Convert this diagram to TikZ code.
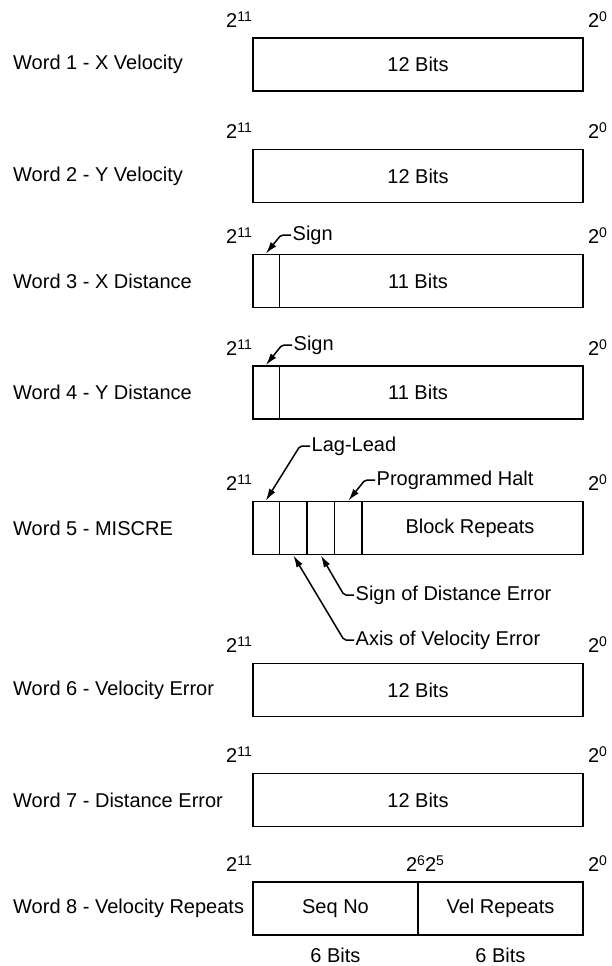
\documentclass[tikz,border=0pt]{standalone}
\usepackage{fontspec}
\setmainfont{Liberation Sans}
\usetikzlibrary{arrows.meta, positioning, calc}
\newcommand{\wfont}{\fontsize{20}{23}\selectfont}
\newcommand{\pwr}[1]{2\raisebox{6pt}{\fontsize{14}{15}\selectfont #1}}
\tikzset{
  word/.style={draw, line width=1.8pt, minimum width=330pt, minimum height=53pt, inner sep=0pt, font=\wfont},
  wlab/.style={anchor=west, inner sep=0pt, font=\wfont},
  txt/.style={inner sep=0pt, font=\wfont},
  pw/.style={inner sep=0pt, font=\fontsize{20}{22}\selectfont},
  div/.style={line width=1.6pt},
  call/.style={line width=1.5pt, rounded corners=2pt, -{Latex[length=12pt, width=7pt]}},
  clab/.style={anchor=west, inner sep=1.5pt, font=\wfont}
}
\newcommand{\bitends}[1]{
  \node[pw, anchor=base east] (h#1) at ([yshift=10pt]w#1.north west) {\pwr{11}};
  \node[pw, anchor=base west] (z#1) at ([shift={(4pt,10pt)}]w#1.north east) {\pwr{0}};
}
\begin{document}
\begin{tikzpicture}[x=1pt, y=-1pt]
  \useasboundingbox (0,0) rectangle (612,966);
  \node[word] (w1) at (418,64.5) {12 Bits};
  \node[word] (w2) at (418,176) {12 Bits};
  \node[word] (w3) at (418,281) {11 Bits};
  \node[word] (w4) at (418,392.5) {11 Bits};
  \node[word] (w5) at (418,528) {};
  \node[word] (w6) at (418,690) {12 Bits};
  \node[word] (w7) at (418,800) {12 Bits};
  \node[word] (w8) at (418,908.5) {};
  \node[wlab] (l1) at (13,64.5) {Word 1 - X Velocity};
  \node[wlab] (l2) at (13,176) {Word 2 - Y Velocity};
  \node[wlab] (l3) at (13,281) {Word 3 - X Distance};
  \node[wlab] (l4) at (13,392.5) {Word 4 - Y Distance};
  \node[wlab] (l5) at (13,528) {Word 5 - MISCRE};
  \node[wlab] (l6) at (13,690) {Word 6 - Velocity Error};
  \node[wlab] (l7) at (13,800) {Word 7 - Distance Error};
  \node[wlab] (l8) at (13,908.5) {Word 8 - Velocity Repeats};
  \bitends{1} \bitends{2} \bitends{3} \bitends{4}
  \bitends{5} \bitends{6} \bitends{7} \bitends{8}
  \node[pw, anchor=base] (m8) at ([shift={(7pt,10pt)}]w8.north) {\pwr{6}\pwr{5}};

  \draw[div] ($(w3.north west)+(27.5,0)$) -- ($(w3.south west)+(27.5,0)$);
  \draw[div] ($(w4.north west)+(27.5,0)$) -- ($(w4.south west)+(27.5,0)$);
  \draw[div] ($(w5.north west)+(27.5,0)$) -- ($(w5.south west)+(27.5,0)$);
  \draw[div] ($(w5.north west)+(55,0)$) -- ($(w5.south west)+(55,0)$);
  \draw[div] ($(w5.north west)+(82.5,0)$) -- ($(w5.south west)+(82.5,0)$);
  \draw[div] ($(w5.north west)+(110,0)$) -- ($(w5.south west)+(110,0)$);
  \draw[div] (w8.north) -- (w8.south);

  \node[txt] (blk) at (470,528) {Block Repeats};
  \node[txt] (seq) at (335.5,908.5) {Seq No};
  \node[txt] (vrep) at (500.5,908.5) {Vel Repeats};
  \node[txt] (b6l) at (335.5,955) {6 Bits};
  \node[txt] (b6r) at (500.5,955) {6 Bits};

  \coordinate (s3) at ($(w3.north west)+(13.75,0)$);
  \coordinate (s4) at ($(w4.north west)+(13.75,0)$);
  \coordinate (lag) at ($(w5.north west)+(13.75,0)$);
  \coordinate (halt) at ($(w5.north west)+(96.25,0)$);
  \coordinate (axis) at ($(w5.south west)+(41.25,0)$);
  \coordinate (dsign) at ($(w5.south west)+(68.75,0)$);

  \node[clab] (sg3) at (291,235) {Sign};
  \node[clab] (sg4) at (292,345) {Sign};
  \node[clab] (ll) at (310,446) {Lag-Lead};
  \node[clab] (ph) at (375,480) {Programmed Halt};
  \node[clab] (sde) at (354,595) {Sign of Distance Error};
  \node[clab] (ave) at (354,640) {Axis of Velocity Error};
  \draw[call] (sg3.west) -- ++(-10,0) -- (s3);
  \draw[call] (sg4.west) -- ++(-10,0) -- (s4);
  \draw[call] (ll.west) -- ++(-10,0) -- (lag);
  \draw[call] (ph.west) -- ++(-10,0) -- (halt);
  \draw[call] (sde.west) -- ++(-10,0) -- (dsign);
  \draw[call] (ave.west) -- ++(-10,0) -- (axis);
\end{tikzpicture}
\end{document}
